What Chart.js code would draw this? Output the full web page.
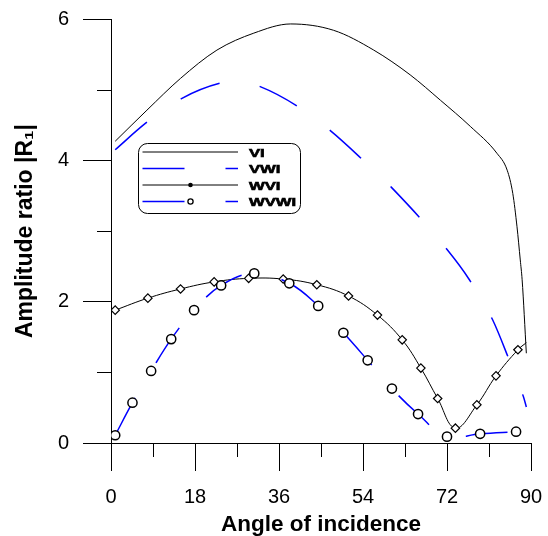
<!DOCTYPE html>
<html>
<head>
<meta charset="utf-8">
<script src="https://cdn.jsdelivr.net/npm/chart.js@4.4.0/dist/chart.umd.min.js"></script>
<style>
  html, body { margin: 0; padding: 0; background: #fff; }
  #wrap { width: 548px; height: 536px; position: relative; }
</style>
</head>
<body>
<div id="wrap"><canvas id="ampChart"></canvas></div>
<script>
// values (angle in degrees, amplitude ratio)
var viAngle   = [0.9, 7.7, 14.9, 22.7, 30.6, 38.5, 47.7, 56.3, 64.1, 70.6, 77.0, 82.7, 84.9, 86.1, 87.0, 87.7, 88.1, 89.0];
var viAmp     = [4.27, 4.71, 5.16, 5.56, 5.80, 5.93, 5.84, 5.56, 5.21, 4.85, 4.48, 4.10, 3.86, 3.53, 3.06, 2.59, 2.31, 1.27];

var vwiAngle  = [0.9, 7.7, 15.0, 23.3, 27.5, 32.1, 40.1, 47.0, 53.9, 60.2, 72.1, 76.8, 81.8, 85.3, 88.4, 89.0];
var vwiAmp    = [4.15, 4.54, 4.87, 5.09, 5.12, 5.04, 4.76, 4.42, 4.01, 3.61, 2.73, 2.31, 1.74, 1.18, 0.65, 0.51];

var wviAngle  = [0.9, 7.9, 14.9, 22.1, 29.5, 36.9, 44.1, 50.9, 57.1, 62.4, 66.4, 70.0, 73.8, 78.4, 82.5, 87.2, 89.0];
var wviAmp    = [1.88, 2.05, 2.18, 2.28, 2.33, 2.32, 2.24, 2.08, 1.81, 1.46, 1.06, 0.63, 0.21, 0.54, 0.95, 1.32, 1.42];

var wvwiAngle = [0.9, 4.6, 8.6, 12.9, 17.8, 23.6, 30.7, 38.2, 44.4, 49.8, 55.0, 60.2, 65.8, 72.0, 79.1, 86.8];
var wvwiAmp   = [0.11, 0.57, 1.02, 1.47, 1.88, 2.23, 2.40, 2.26, 1.94, 1.56, 1.17, 0.77, 0.41, 0.09, 0.13, 0.16];

var seriesNames = ['VI', 'VWI', 'WVI', 'WVWI'];
var xTicks = [0, 18, 36, 54, 72, 90];
var yTicks = [0, 2, 4, 6];

(function(){
  function pts(xs, ys) {
    return xs.map(function(x, i){ return {x: x, y: ys[i]}; });
  }

  var BLUE = '#0000ff';
  var FONT = '"Liberation Sans", Arial, sans-serif';

  // keep label overhang from pushing the plot area around
  function noPad(s) {
    s.paddingTop = 0; s.paddingBottom = 0;
    s.paddingLeft = 0; s.paddingRight = 0;
  }

  // minor tick marks (half length) between the labelled ones
  var minorTicks = {
    id: 'minorTicks',
    afterDraw: function(chart) {
      var ctx = chart.ctx, a = chart.chartArea;
      var xs = chart.scales.x, ys = chart.scales.y;
      ctx.save();
      ctx.strokeStyle = '#000';
      ctx.lineWidth = 1;
      ctx.beginPath();
      for (var i = 0; i < xTicks.length - 1; i++) {
        var px = Math.round(xs.getPixelForValue((xTicks[i] + xTicks[i+1]) / 2)) + 0.5;
        ctx.moveTo(px, a.bottom);
        ctx.lineTo(px, a.bottom + 14);
      }
      for (var j = 0; j < yTicks.length - 1; j++) {
        var py = Math.round(ys.getPixelForValue((yTicks[j] + yTicks[j+1]) / 2)) + 0.5;
        ctx.moveTo(a.left - 14, py);
        ctx.lineTo(a.left, py);
      }
      ctx.stroke();
      ctx.restore();
    }
  };

  // boxed legend in the style of the original figure
  var boxLegend = {
    id: 'boxLegend',
    afterDraw: function(chart) {
      var ctx = chart.ctx;
      var bx = 138.5, by = 143.5, bw = 162, bh = 70, r = 9;
      ctx.save();
      ctx.beginPath();
      ctx.moveTo(bx + r, by);
      ctx.arcTo(bx + bw, by, bx + bw, by + bh, r);
      ctx.arcTo(bx + bw, by + bh, bx, by + bh, r);
      ctx.arcTo(bx, by + bh, bx, by, r);
      ctx.arcTo(bx, by, bx + bw, by, r);
      ctx.closePath();
      ctx.fillStyle = '#fff';
      ctx.fill();
      ctx.strokeStyle = '#000';
      ctx.lineWidth = 1;
      ctx.stroke();

      chart.data.datasets.forEach(function(ds, i){
        var y = 152 + i * 16.5;
        ctx.beginPath();
        ctx.setLineDash(ds.borderDash || []);
        ctx.strokeStyle = ds.borderColor;
        ctx.lineWidth = ds.borderWidth;
        ctx.moveTo(142.5, y);
        ctx.lineTo(238, y);
        ctx.stroke();
        ctx.setLineDash([]);
        if (ds.legendMarker === 'dot') {
          ctx.beginPath();
          ctx.arc(190.5, y, 2.3, 0, Math.PI * 2);
          ctx.fillStyle = '#000';
          ctx.fill();
        } else if (ds.legendMarker === 'ring') {
          ctx.beginPath();
          ctx.arc(190.5, y, 2.6, 0, Math.PI * 2);
          ctx.fillStyle = '#fff';
          ctx.fill();
          ctx.strokeStyle = '#000';
          ctx.lineWidth = 1.3;
          ctx.stroke();
        }
        ctx.save();
        ctx.translate(249, y + 4.5);
        ctx.scale(1.45, 1);
        ctx.fillStyle = '#000';
        ctx.strokeStyle = '#000';
        ctx.lineWidth = 0.6;
        ctx.font = 'bold 11.5px ' + FONT;
        ctx.textBaseline = 'alphabetic';
        ctx.fillText(ds.label, 0, 0);
        ctx.strokeText(ds.label, 0, 0);
        ctx.restore();
      });
      ctx.restore();
    }
  };

  var canvas = document.getElementById('ampChart');
  var ctx = canvas.getContext('2d');

  new Chart(ctx, {
    type: 'line',
    data: {
      datasets: [{
        label: seriesNames[0],
        data: pts(viAngle, viAmp),
        borderColor: '#000',
        borderWidth: 1,
        pointRadius: 0,
        cubicInterpolationMode: 'monotone',
        order: 3
      }, {
        label: seriesNames[1],
        data: pts(vwiAngle, vwiAmp),
        borderColor: BLUE,
        borderWidth: 1.5,
        borderDash: [42, 41],
        pointRadius: 0,
        cubicInterpolationMode: 'monotone',
        order: 2
      }, {
        label: seriesNames[2],
        data: pts(wviAngle, wviAmp),
        borderColor: '#000',
        borderWidth: 1,
        tension: 0.4,
        pointStyle: 'rectRot',
        pointRadius: wviAngle.map(function(_, i){ return i === wviAngle.length - 1 ? 0 : 4.2; }),
        pointBackgroundColor: '#fff',
        pointBorderColor: '#000',
        pointBorderWidth: 1.2,
        legendMarker: 'dot',
        order: 1
      }, {
        label: seriesNames[3],
        data: pts(wvwiAngle, wvwiAmp),
        borderColor: BLUE,
        borderWidth: 1.5,
        borderDash: [42, 41],
        tension: 0.4,
        pointStyle: 'circle',
        pointRadius: 4.6,
        pointBackgroundColor: '#fff',
        pointBorderColor: '#000',
        pointBorderWidth: 1.5,
        legendMarker: 'ring',
        order: 0
      }]
    },
    options: {
      responsive: true,
      maintainAspectRatio: false,
      animation: false,
      events: [],
      layout: { padding: { top: 19, right: 17, left: 0, bottom: 0 } },
      plugins: {
        legend: { display: false },
        tooltip: { enabled: false }
      },
      scales: {
        x: {
          type: 'linear',
          min: 0, max: 90,
          afterFit: function(s){ s.height = 93; noPad(s); },
          afterBuildTicks: function(s){ s.ticks = xTicks.map(function(v){ return {value: v}; }); },
          grid: { drawOnChartArea: false, tickLength: 28, color: '#000', lineWidth: 1 },
          border: { display: true, color: '#000', width: 1 },
          ticks: { padding: 14, color: '#000', maxRotation: 0, font: { family: FONT, size: 20 } },
          title: {
            display: true, text: 'Angle of incidence', color: '#000',
            padding: { top: 0, bottom: 0 },
            font: { family: FONT, size: 22.5, weight: 'bold', lineHeight: 1 }
          }
        },
        y: {
          type: 'linear',
          min: 0, max: 6,
          afterFit: function(s){ s.width = 111; noPad(s); },
          afterBuildTicks: function(s){ s.ticks = yTicks.map(function(v){ return {value: v}; }); },
          grid: { drawOnChartArea: false, tickLength: 28, color: '#000', lineWidth: 1 },
          border: { display: true, color: '#000', width: 1 },
          ticks: { padding: 14, color: '#000', font: { family: FONT, size: 20 } },
          title: {
            display: true, text: 'Amplitude ratio |R\u2081|', color: '#000',
            padding: { top: 14, bottom: 0 },
            font: { family: FONT, size: 23, weight: 'bold', lineHeight: 1 }
          }
        }
      }
    },
    plugins: [minorTicks, boxLegend]
  });
})();
</script>
</body>
</html>
